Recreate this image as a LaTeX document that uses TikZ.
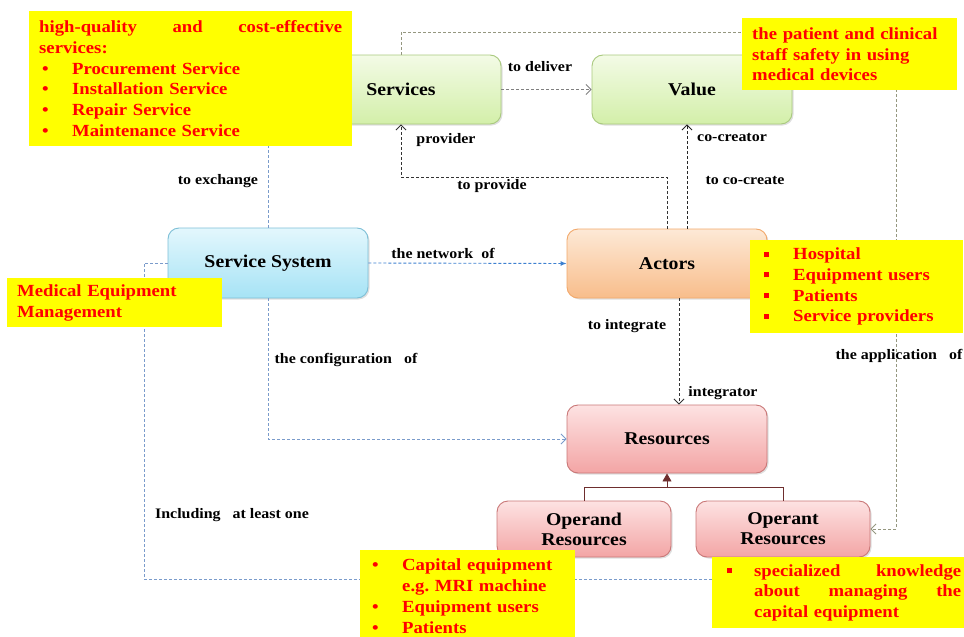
\documentclass[tikz,border=0pt]{standalone}
\usepackage{fontspec}
\setmainfont[FakeStretch=1.1]{Liberation Serif}
\usetikzlibrary{arrows.meta,shadows}

\definecolor{notered}{HTML}{FF0000}
\definecolor{noteyellow}{HTML}{FFFF00}
\definecolor{greenline}{HTML}{A9C97E}
\definecolor{greentop}{HTML}{F3FBE6}
\definecolor{greenbot}{HTML}{D3EFA9}
\definecolor{blueline}{HTML}{7DBFD6}
\definecolor{bluetop}{HTML}{E3F7FD}
\definecolor{bluebot}{HTML}{A6E3F5}
\definecolor{orangeline}{HTML}{F2A86A}
\definecolor{orangetop}{HTML}{FDE9D6}
\definecolor{orangebot}{HTML}{F8BD8B}
\definecolor{redline}{HTML}{C97777}
\definecolor{redtop}{HTML}{FDE2E2}
\definecolor{redbot}{HTML}{F3A5A5}
\definecolor{paleblue}{HTML}{7A9BCB}
\definecolor{netblue}{HTML}{3D80D0}
\definecolor{olivegray}{HTML}{959780}
\definecolor{treebrown}{HTML}{6E2E2E}

\newcommand{\roundbul}[2]{\makebox[#1][l]{\hspace{#2}\textbullet}}
\newcommand{\squarebul}[2]{\makebox[#1][l]{\hspace{#2}\rule[3pt]{5pt}{5pt}}}

\tikzset{
  concept/.style={draw, rounded corners=11pt, line width=0.9pt, minimum width=200pt,
    minimum height=69pt, align=center, font=\fontsize{18}{20}\selectfont\bfseries,
    drop shadow={opacity=0.25,shadow xshift=1.5pt,shadow yshift=-1.5pt}},
  greenbox/.style={concept, draw=greenline, top color=greentop, bottom color=greenbot},
  bluebox/.style={concept, draw=blueline, top color=bluetop, bottom color=bluebot},
  orangebox/.style={concept, draw=orangeline, top color=orangetop, bottom color=orangebot},
  redbox/.style={concept, draw=redline, top color=redtop, bottom color=redbot},
  yellownote/.style={fill=noteyellow, text=notered, anchor=north west, align=left,
    inner xsep=10pt, inner ysep=0pt, font=\fontsize{17}{20.7}\selectfont\bfseries},
  rel/.style={font=\fontsize{14.5}{17}\selectfont\bfseries},
  link/.style={dash pattern=on 3pt off 2pt, line width=0.9pt},
  openhead/.style={-{Straight Barb[length=5pt,width=10pt,line width=0.8pt]}}
}

\begin{document}
\begin{tikzpicture}[x=1pt,y=-1pt]
\clip (0,0) rectangle (964,637);
\useasboundingbox (0,0) rectangle (964,637);

\node[greenbox] (services) at (401,89.5) {Services};
\node[greenbox] (value) at (692,89.5) {Value};
\node[bluebox, minimum height=70pt] (servsys) at (268,263) {Service System};
\node[orangebox] (actors) at (667,263.5) {Actors};
\node[redbox, minimum height=68pt] (resources) at (667,439) {Resources};
\node[redbox, minimum width=174pt, minimum height=56pt] (operand) at (584,529) {Operand\\Resources};
\node[redbox, minimum width=174pt, minimum height=56pt] (operant) at (783,529) {Operant\\Resources};

\coordinate (treeJoin) at ([yshift=-14pt]resources.south);
\coordinate (inclEnd) at (712,579);

\draw[link, gray, openhead] (services.east) -- (value.west);
\draw[link, olivegray, openhead] (services.north) |- (896,32) |- (operant.east);
\draw[link, black!80, openhead] (actors.north) |- (401,177) -- (services.south);
\draw[link, black!85, openhead] ([xshift=20pt]actors.north) -- ([xshift=20pt]actors.north |- value.south);
\draw[link, black!80, openhead] ([xshift=12pt]actors.south) -- ([xshift=12pt]actors.south |- resources.north);
\draw[link, netblue, -{Latex[length=6pt,width=5pt]}] (servsys.east) -- (actors.west);
\draw[link, paleblue, openhead] (servsys.south) |- (resources.west);
\draw[link, paleblue] (servsys.north) |- (services.west);
\draw[link, paleblue] (servsys.west) -| (144,579) -- (inclEnd);
\draw[treebrown, line width=0.8pt] (operand.north) |- (treeJoin) -| (operant.north);
\draw[treebrown, line width=0.8pt, -{Triangle[length=8pt,width=9pt]}] (treeJoin) -- (resources.south);

\node[rel] (lblDeliver) at (540,67) {to deliver};
\node[rel] (lblProvider) at (446,140) {provider};
\node[rel] (lblProvide) at (492,186) {to provide};
\node[rel] (lblCocreator) at (732,137) {co-creator};
\node[rel] (lblCocreate) at (745,180) {to co-create};
\node[rel] (lblExchange) at (218,181) {to exchange};
\node[rel] (lblNetwork) at (443,253) {the network~ of};
\node[rel] (lblConfig) at (346,360) {the configuration~~ of};
\node[rel] (lblIntegrate) at (627,326) {to integrate};
\node[rel] (lblIntegrator) at (723,393) {integrator};
\node[rel] (lblApplication) at (899,356) {the application~~ of};
\node[rel] (lblIncluding) at (232,515) {Including~~ at least one};

\node[yellownote, text width=303pt, minimum height=135pt] (servicesNote) at (29,11)
  {\hbox to 303pt{high-quality\hfill and\hfill cost-effective}\\
   services:\\
   \roundbul{33pt}{3pt}Procurement Service\\
   \roundbul{33pt}{3pt}Installation Service\\
   \roundbul{33pt}{3pt}Repair Service\\
   \roundbul{33pt}{3pt}Maintenance Service};
\node[yellownote, text width=195pt, minimum height=72pt] (valueNote) at (742,18)
  {the patient and clinical\\staff safety in using\\medical devices};
\node[yellownote, text width=195pt, minimum height=49pt] (systemNote) at (7,278)
  {Medical Equipment\\Management};
\node[yellownote, text width=195pt, inner xsep=9pt, minimum height=93pt] (actorsNote) at (750,240)
  {\squarebul{34pt}{5pt}Hospital\\
   \squarebul{34pt}{5pt}Equipment users\\
   \squarebul{34pt}{5pt}Patients\\
   \squarebul{34pt}{5pt}Service providers};
\node[yellownote, text width=195pt, minimum height=92pt] (operandNote) at (360,550)
  {\roundbul{32pt}{2pt}Capital equipment\\
   \hspace*{32pt}e.g.\ MRI machine\\
   \roundbul{32pt}{2pt}Equipment users\\
   \roundbul{32pt}{2pt}Patients};
\node[yellownote, text width=258pt, minimum height=71pt] (operantNote) at (712,557)
  {\squarebul{32pt}{5pt}\hbox to 207pt{specialized\hfill knowledge}\\
   \hspace*{32pt}\hbox to 207pt{about\hfill managing\hfill the}\\
   \hspace*{32pt}capital equipment};
\end{tikzpicture}
\end{document}
